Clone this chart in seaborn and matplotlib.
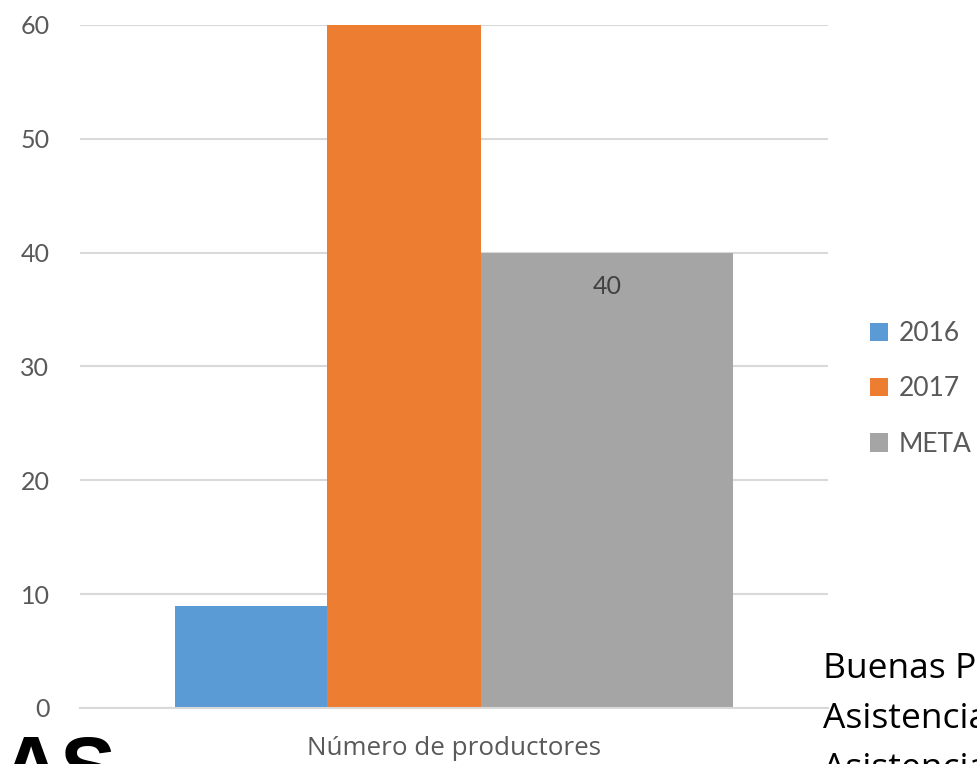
import pandas as pd
import matplotlib.pyplot as plt
import seaborn as sns
from matplotlib.patches import Patch

# Data
category = ["Número de productores"]
series = ["2016", "2017", "META"]
values = [9, 60, 40]
colors = ["#5B9BD5", "#ED7D31", "#A5A5A5"]
y_ticks = [0, 10, 20, 30, 40, 50, 60]
side_lines = ["Buenas Prácticas", "Asistencia técnica", "Asistencia"]

df = pd.DataFrame({"Categoria": category * len(series), "Serie": series, "Valor": values})

sns.set_theme(style="white")
plt.rcParams["font.family"] = ["Lato", "DejaVu Sans"]

fig = plt.figure(figsize=(9.77, 7.64), dpi=100)
ax = fig.add_axes([0.0819, 0.0733, 0.7656, 0.894])

sns.barplot(data=df, x="Categoria", y="Valor", hue="Serie", palette=colors,
            width=0.75, saturation=1, legend=False, ax=ax)

# Excel-like bar layout: bars side by side, META wider
bar_widths = [0.203, 0.206, 0.337]
left = -0.373
for patch, w in zip(ax.patches, bar_widths):
    patch.set_x(left)
    patch.set_width(w)
    patch.set_edgecolor("none")
    left += w

ax.set_xlim(-0.5, 0.5)
ax.set_ylim(0, 60)
ax.set_yticks(y_ticks)
ax.yaxis.grid(True, color="#d9d9d9", linewidth=1.5)
ax.set_axisbelow(True)
for side in ["top", "right", "left"]:
    ax.spines[side].set_visible(False)
ax.spines["bottom"].set_color("#d9d9d9")
ax.spines["bottom"].set_linewidth(1.5)
ax.tick_params(axis="y", length=0, pad=22, labelsize=18, labelcolor="#595959")
ax.tick_params(axis="x", length=0, labelsize=18.7, labelcolor="#595959", pad=20)
for lbl in ax.get_xticklabels():
    lbl.set_family(["Open Sans", "DejaVu Sans"])
ax.set_xlabel("")
ax.set_ylabel("")

# Data label on META bar
meta = ax.patches[2]
ax.annotate(f"{values[2]}", xy=(meta.get_x() + meta.get_width() / 2, values[2]),
            xytext=(0, -24.5), textcoords="offset points", ha="center", va="center",
            fontsize=18, color="#404040")

handles = [Patch(facecolor=c, edgecolor="none", label=s) for s, c in zip(series, colors)]
leg = fig.legend(handles=handles, loc="center left", bbox_to_anchor=(0.866, 0.491),
                 frameon=False, fontsize=19, labelcolor="#595959",
                 handlelength=0.7, handleheight=0.7, handletextpad=0.4, labelspacing=1.15)

# Cropped text from the slide around the chart
fig.text(0.12, -0.04, "AS", fontsize=60, fontweight="heavy", color="black",
         family=["Liberation Sans", "DejaVu Sans"], ha="right", va="baseline")
for i, line in enumerate(side_lines):
    fig.text(0.842, 0.1126 - i * 0.0654, line, fontsize=25.5, color="black",
             ha="left", va="baseline", family=["Open Sans", "DejaVu Sans"])

plt.savefig("out.png", dpi=100)
